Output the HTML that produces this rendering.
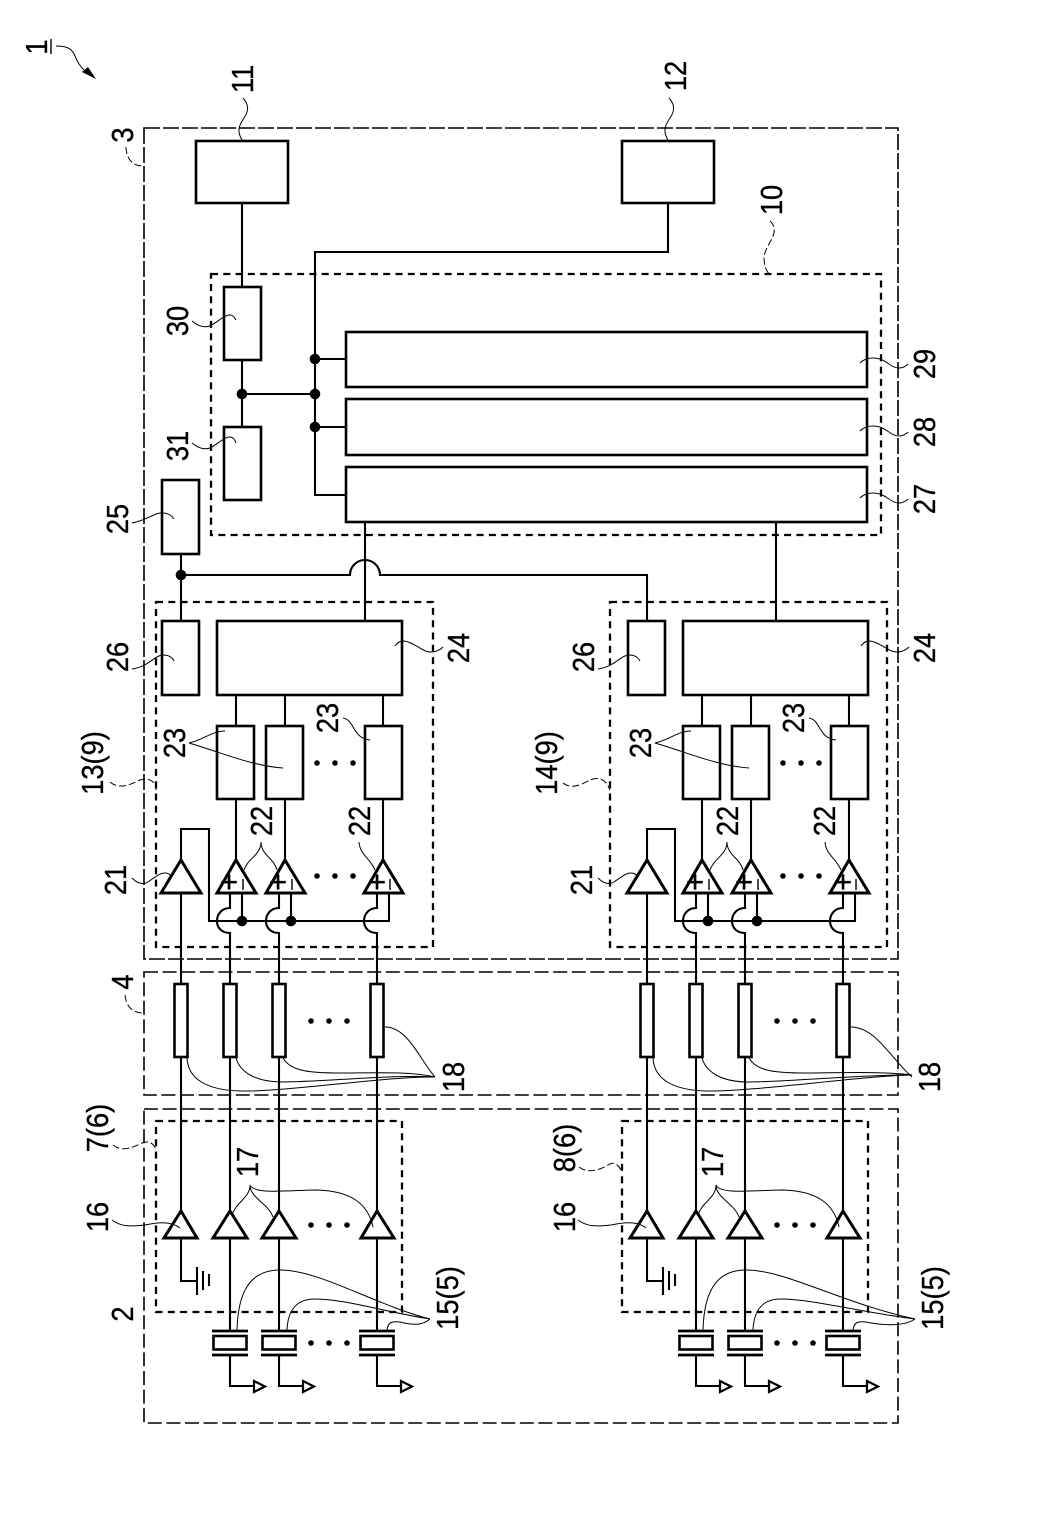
<!DOCTYPE html>
<html lang="en"><head><meta charset="utf-8"><title>Diagram</title>
<style>
html,body{margin:0;padding:0;background:#fff}
svg{display:block}
text{font-family:"Liberation Sans",sans-serif;font-size:31px;fill:#000;stroke:#000;stroke-width:.35;text-anchor:middle}
.sym{font-size:24px}
.w{fill:none;stroke:#000;stroke-width:2.1}
.b{fill:#fff;stroke:#000;stroke-width:2.6}
.t{fill:#fff;stroke:#000;stroke-width:3;stroke-linejoin:miter}
.o{fill:none;stroke:#000;stroke-width:1.6;stroke-dasharray:14 4.6}
.i{fill:none;stroke:#000;stroke-width:2.3;stroke-dasharray:7 5.3}
.l{fill:none;stroke:#000;stroke-width:1}
.d{fill:none;stroke:#000;stroke-width:1;stroke-dasharray:7 3}
</style></head><body>
<svg xmlns="http://www.w3.org/2000/svg" width="1039" height="1528" viewBox="0 0 1039 1528">
<defs>
<g id="col">
  <!-- wires -->
  <g class="w">
    <path d="M236,695V726M285,695V726M383,695V726"/>
    <path d="M236,799V860M285,799V860M383,799V860"/>
    <path d="M181,860V829H209V921H389V893"/>
    <path d="M181,892V984M181,1057V1211"/>
    <path d="M230,893V908C222,908 217,914 217,921C217,928 222,933 230,933V984"/>
    <path d="M279,893V908C271,908 266,914 266,921C266,928 271,933 279,933V984"/>
    <path d="M377,893V908C369,908 364,914 364,921C364,928 369,933 377,933V984"/>
    <path d="M242,893V921M291,893V921"/>
    <path d="M230,1057V1211M279,1057V1211M377,1057V1211"/>
    <path d="M230,1238V1331M279,1238V1331M377,1238V1331"/>
    <path d="M181,1238V1281H197M197,1267V1295M203,1271V1290M209,1274V1286"/>
    <path d="M230,1355V1386H254M279,1355V1386H303M377,1355V1386H401"/>
  </g>
  <circle cx="242" cy="921" r="5.300"/><circle cx="291" cy="921" r="5.300"/>
  <!-- boxes -->
  <g class="b">
    <rect x="162" y="621" width="37" height="74"/>
    <rect x="217" y="621" width="185" height="74"/>
    <rect x="217" y="726" width="37" height="73"/>
    <rect x="266" y="726" width="37" height="73"/>
    <rect x="365" y="726" width="37" height="73"/>
    <rect x="174.500" y="984" width="13" height="73"/>
    <rect x="223.500" y="984" width="13" height="73"/>
    <rect x="272.500" y="984" width="13" height="73"/>
    <rect x="370.500" y="984" width="13" height="73"/>
    <rect x="213.500" y="1336" width="33" height="13.500"/>
    <rect x="262.500" y="1336" width="33" height="13.500"/>
    <rect x="360.500" y="1336" width="33" height="13.500"/>
  </g>
  <g class="w" style="stroke-width:2.8">
    <path d="M212,1331H248M212,1355H248M261,1331H297M261,1355H297M359,1331H395M359,1355H395"/>
  </g>
  <!-- amps -->
  <g class="t" style="fill:none">
    <path d="M181,860L201,893H161Z"/>
    <path d="M236,860L256,893H217Z"/>
    <path d="M285,860L305,893H266Z"/>
    <path d="M383,860L403,893H364Z"/>
    <path d="M181,1211L197,1238H164Z"/>
    <path d="M230,1211L247,1238H213Z"/>
    <path d="M279,1211L296,1238H262Z"/>
    <path d="M377,1211L394,1238H361Z"/>
  </g>
  <g class="b" style="stroke-width:2.2;fill:#fff">
    <path d="M254,1381L265,1386.500L254,1392Z"/>
    <path d="M303,1381L314,1386.500L303,1392Z"/>
    <path d="M401,1381L412,1386.500L401,1392Z"/>
  </g>
  <!-- ellipsis dots -->
  <g>
    <circle cx="317" cy="763" r="2.800"/><circle cx="335" cy="763" r="2.800"/><circle cx="353" cy="763" r="2.800"/>
    <circle cx="317" cy="876" r="2.800"/><circle cx="335" cy="876" r="2.800"/><circle cx="353" cy="876" r="2.800"/>
    <circle cx="311" cy="1021" r="2.800"/><circle cx="329" cy="1021" r="2.800"/><circle cx="347" cy="1021" r="2.800"/>
    <circle cx="311" cy="1225" r="2.800"/><circle cx="329" cy="1225" r="2.800"/><circle cx="347" cy="1225" r="2.800"/>
    <circle cx="311" cy="1343" r="2.800"/><circle cx="329" cy="1343" r="2.800"/><circle cx="347" cy="1343" r="2.800"/>
  </g>
  <!-- leaders shared -->
  <g class="l">
    <path d="M132,669C148,667 155,655 163,655C168,655 172,657 174,661"/>
    <path d="M395,646C398,642 400,641 404,641C414,642 422,652 431,652C436,652 440,650 443,647"/>
    <path d="M189,743C203,740 212,731 225,731M189,743C220,752 252,766 283,768"/>
    <path d="M343,718C355,720 352,738 370,740"/>
    <path d="M261,842C261,855 248,858 244,870M261,842C261,855 274,858 277,870"/>
    <path d="M359,842C360,855 370,858 375,870"/>
    <path d="M132,878C138,884 143,885 148,882C155,877 160,873 165,873C168,873 170,874 172,877"/>
    <path d="M250,1185C250,1198 236,1202 232,1215M250,1185C250,1198 268,1203 273,1217M250,1185C254,1195 290,1190 317,1190C350,1191 368,1203 373,1227"/>
    <path d="M112,1220C120,1226 128,1227 145,1225C155,1223 170,1220 180,1228"/>
  </g>
</g>
</defs>

<!-- outer dashed regions -->
<rect class="o" x="144" y="128" width="754" height="831" style="stroke-dasharray:16 3"/>
<rect class="o" x="144" y="972" width="754" height="123"/>
<rect class="o" x="144" y="1109" width="754" height="314"/>
<!-- inner dashed regions -->
<rect class="i" x="211" y="274" width="670" height="261"/>
<rect class="i" x="156" y="602" width="277" height="345"/>
<rect class="i" x="610" y="602" width="277" height="345"/>
<rect class="i" x="156" y="1121" width="246" height="191"/>
<rect class="i" x="622" y="1121" width="246" height="191"/>

<!-- top wires -->
<g class="w">
  <path d="M242,203V287M242,360V427M242,394H315"/>
  <path d="M668,203V252H315V495H346M315,359H346M315,427H346"/>
  <path d="M181,554V621"/>
  <path d="M181,575H350A15,15 0 0 1 380,575H647V621"/>
  <path d="M365,522V621M776,522V621"/>
</g>
<circle cx="181" cy="575" r="5.300"/>
<circle cx="242" cy="394" r="5.300"/>
<circle cx="315" cy="359" r="5.300"/>
<circle cx="315" cy="394" r="5.300"/>
<circle cx="315" cy="427" r="5.300"/>

<g class="b">
  <rect x="196" y="141" width="92" height="62"/>
  <rect x="622" y="141" width="92" height="62"/>
  <rect x="224" y="287" width="37" height="73"/>
  <rect x="224" y="427" width="37" height="73"/>
  <rect x="162" y="480" width="37" height="74"/>
  <rect x="346" y="332" width="521" height="55"/>
  <rect x="346" y="399" width="521" height="56"/>
  <rect x="346" y="467" width="521" height="55"/>
</g>

<use href="#col"/>
<use href="#col" transform="translate(466,0)"/>

<!-- symbols in amplifiers -->
<g class="sym">
  <text x="229" y="892">+</text><text x="278" y="892">+</text><text x="377" y="892">+</text>
  <text x="695" y="892">+</text><text x="744" y="892">+</text><text x="843" y="892">+</text>
</g>
<g class="w" style="stroke-width:1.4">
  <path d="M243,879V890M292,879V890M390,879V890M709,879V890M758,879V890M856,879V890"/>
</g>

<!-- leaders -->
<g class="l">
  <path d="M56,46C66,46 72,48 75,56C78,63 80,66 85,71"/>
  <path d="M243,98C250,106 248,112 244,118C240,124 236,130 242,140"/>
  <path d="M669,98C676,106 674,112 670,118C666,124 662,130 668,140"/>
  <path d="M192,321C198,326 204,328 210,326C218,322 224,315 230,315C233,315 235,318 236,320"/>
  <path d="M192,443C198,448 204,450 210,448C218,444 224,437 230,437C233,437 235,440 236,443"/>
  <path d="M132,523C148,520 155,512 163,513C168,513 172,516 174,519"/>
  <path d="M860,363C865,358 872,357 880,359C888,362 892,368 899,368C903,368 906,366 908,364"/>
  <path d="M860,431C865,426 872,425 880,427C888,430 892,436 899,436C903,436 906,434 908,432"/>
  <path d="M860,498C865,493 872,492 880,494C888,497 892,503 899,503C903,503 906,501 908,499"/>
  <!-- 18 left -->
  <path d="M385,1027C408,1027 420,1060 435,1077"/>
  <path d="M283,1058C290,1070 305,1073 340,1073C370,1073 410,1071 435,1077"/>
  <path d="M236,1058C240,1072 255,1082 283,1082C320,1082 400,1074 435,1077"/>
  <path d="M187,1058C188,1078 205,1090 240,1091C285,1092 390,1076 435,1077"/>
  <!-- 18 right -->
  <path d="M851,1027C876,1027 892,1060 912,1077"/>
  <path d="M749,1058C756,1070 771,1073 806,1073C836,1073 880,1071 912,1075"/>
  <path d="M702,1058C706,1072 721,1082 749,1082C786,1082 870,1074 912,1075"/>
  <path d="M653,1058C654,1078 671,1090 706,1091C751,1092 860,1076 912,1075"/>
  <!-- 15(5) left -->
  <path d="M237,1330C238,1295 248,1270 280,1270C320,1270 375,1305 430,1319"/>
  <path d="M287,1330C288,1308 298,1299 315,1299C345,1299 385,1312 430,1319"/>
  <path d="M387,1330C388,1322 392,1321 400,1322C412,1325 422,1326 430,1319"/>
  <!-- 15(5) right -->
  <path d="M703,1330C704,1295 714,1270 746,1270C786,1270 841,1303 915,1319"/>
  <path d="M753,1330C754,1308 764,1299 781,1299C811,1299 860,1312 915,1319"/>
  <path d="M853,1330C854,1322 858,1321 866,1322C885,1326 905,1326 915,1319"/>
</g>
<g class="d">
  <path d="M126,147C126,158 132,166 143,166"/>
  <path d="M770,221C782,232 765,245 764,257C764,266 766,270 769,274"/>
  <path d="M110,782C118,789 128,786 140,780C148,778 156,780 156,790"/>
  <path d="M563,783C572,790 582,784 590,780C600,776 606,780 610,790"/>
  <path d="M125,995C126,1006 132,1013 143,1013"/>
  <path d="M113,1145C122,1152 132,1148 142,1143C150,1140 154,1144 156,1150"/>
  <path d="M579,1167C588,1174 600,1170 610,1164C616,1161 620,1168 622,1172"/>
</g>
<path d="M96,79L82,72L88,67Z"/>
<path class="w" style="stroke-width:1.4" d="M51,39V54"/>

<!-- labels -->
<text transform="translate(47,47) rotate(-90) scale(.88,1)">1</text>
<text transform="translate(253,79) rotate(-90) scale(.88,1)">11</text>
<text transform="translate(686,76) rotate(-90) scale(.88,1)">12</text>
<text transform="translate(133,135) rotate(-90) scale(.88,1)">3</text>
<text transform="translate(782,200) rotate(-90) scale(.88,1)">10</text>
<text transform="translate(188,321) rotate(-90) scale(.88,1)">30</text>
<text transform="translate(188,446) rotate(-90) scale(.88,1)">31</text>
<text transform="translate(128,519) rotate(-90) scale(.88,1)">25</text>
<text transform="translate(128,657) rotate(-90) scale(.88,1)">26</text>
<text transform="translate(594,657) rotate(-90) scale(.88,1)">26</text>
<text transform="translate(469,648) rotate(-90) scale(.88,1)">24</text>
<text transform="translate(935,648) rotate(-90) scale(.88,1)">24</text>
<text transform="translate(935,364) rotate(-90) scale(.88,1)">29</text>
<text transform="translate(935,432) rotate(-90) scale(.88,1)">28</text>
<text transform="translate(935,499) rotate(-90) scale(.88,1)">27</text>
<text transform="translate(103,763) rotate(-90) scale(.88,1)">13(9)</text>
<text transform="translate(557,763) rotate(-90) scale(.88,1)">14(9)</text>
<text transform="translate(185,743) rotate(-90) scale(.88,1)">23</text>
<text transform="translate(338,718) rotate(-90) scale(.88,1)">23</text>
<text transform="translate(651,743) rotate(-90) scale(.88,1)">23</text>
<text transform="translate(804,718) rotate(-90) scale(.88,1)">23</text>
<text transform="translate(272,821) rotate(-90) scale(.88,1)">22</text>
<text transform="translate(370,821) rotate(-90) scale(.88,1)">22</text>
<text transform="translate(738,821) rotate(-90) scale(.88,1)">22</text>
<text transform="translate(835,821) rotate(-90) scale(.88,1)">22</text>
<text transform="translate(126,880) rotate(-90) scale(.88,1)">21</text>
<text transform="translate(592,880) rotate(-90) scale(.88,1)">21</text>
<text transform="translate(133,982) rotate(-90) scale(.88,1)">4</text>
<text transform="translate(464,1077) rotate(-90) scale(.88,1)">18</text>
<text transform="translate(940,1077) rotate(-90) scale(.88,1)">18</text>
<text transform="translate(108,1128) rotate(-90) scale(.88,1)">7(6)</text>
<text transform="translate(575,1148) rotate(-90) scale(.88,1)">8(6)</text>
<text transform="translate(258,1162) rotate(-90) scale(.88,1)">17</text>
<text transform="translate(723,1162) rotate(-90) scale(.88,1)">17</text>
<text transform="translate(108,1217) rotate(-90) scale(.88,1)">16</text>
<text transform="translate(575,1217) rotate(-90) scale(.88,1)">16</text>
<text transform="translate(458,1298) rotate(-90) scale(.88,1)">15(5)</text>
<text transform="translate(943,1298) rotate(-90) scale(.88,1)">15(5)</text>
<text transform="translate(133,1314) rotate(-90) scale(.88,1)">2</text>
</svg>
</body></html>
